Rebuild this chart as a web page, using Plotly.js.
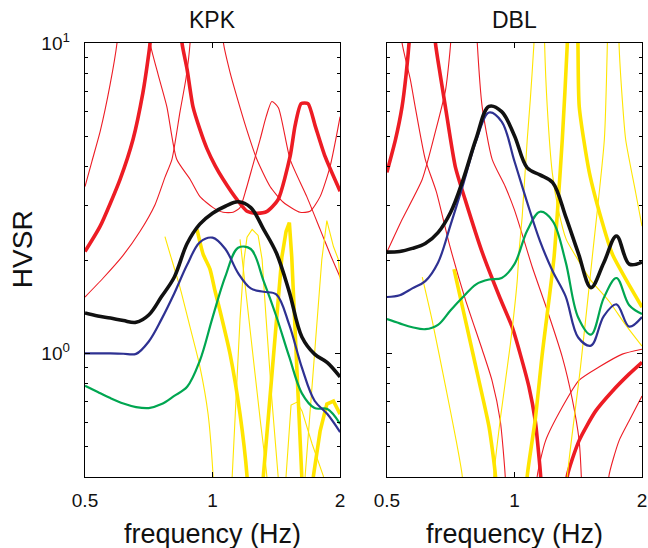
<!DOCTYPE html>
<html>
<head>
<meta charset="utf-8">
<script src="https://cdn.plot.ly/plotly-3.0.1.min.js"></script>
<style>
  html, body { margin: 0; padding: 0; background: #fff; }
  #chart { width: 648px; height: 548px; }
</style>
</head>
<body>
<div id="chart"></div>
<script>
// ---------- shared frequency grid for the smooth HVSR curves ----------
const freq = [0.5, 0.536, 0.574, 0.616, 0.660, 0.707, 0.758, 0.812, 0.871, 0.933, 1.0,
              1.072, 1.149, 1.231, 1.320, 1.414, 1.516, 1.625, 1.741, 1.866, 2.0];

// ---------- KPK smooth curves ----------
const kpkBlack = [1.35, 1.32, 1.30, 1.276, 1.26, 1.33, 1.525, 1.76, 2.26, 2.61, 2.83, 2.98, 3.08, 2.95, 2.51, 2.11, 1.585, 1.13, 0.995, 0.935, 0.84];
const kpkBlue  = [1.0, 1.0, 1.0, 0.998, 0.997, 1.093, 1.29, 1.56, 1.93, 2.28, 2.36, 2.17, 1.815, 1.62, 1.58, 1.55, 1.24, 0.90, 0.704, 0.638, 0.558];
const kpkGreen = [0.787, 0.751, 0.718, 0.69, 0.672, 0.667, 0.687, 0.73, 0.781, 0.947, 1.305, 1.77, 2.19, 2.17, 1.71, 1.318, 0.978, 0.744, 0.667, 0.662, 0.593];

// ---------- DBL smooth curves ----------
const dblBlack = [2.12, 2.13, 2.18, 2.26, 2.45, 2.85, 3.66, 4.92, 6.25, 6.01, 5.03, 3.96, 3.76, 3.55, 2.77, 2.11, 1.63, 1.96, 2.39, 1.94, 1.97];
const dblBlue  = [1.52, 1.54, 1.62, 1.71, 1.96, 2.60, 3.53, 4.84, 5.97, 5.58, 4.16, 3.06, 2.30, 1.84, 1.53, 1.126, 1.06, 1.32, 1.44, 1.22, 1.31];
const dblGreen = [1.29, 1.25, 1.215, 1.197, 1.236, 1.378, 1.525, 1.67, 1.73, 1.75, 1.94, 2.49, 2.86, 2.67, 1.98, 1.305, 1.15, 1.51, 1.75, 1.43, 1.34];

// ---------- KPK red curves (thin / thick) ----------
const kA_f = [0.5, 0.519, 0.543, 0.573, 0.595, 0.605];
const kA_v = [3.45, 4.15, 5.19, 7.34, 10.0, 13.3];
const kB_f = [0.5, 0.543, 0.605, 0.649, 0.685, 0.704, 0.712, 0.716];
const kB_v = [2.13, 2.57, 3.64, 4.89, 6.92, 8.84, 10.0, 11.9];
const kC_f = [0.708, 0.712, 0.744, 0.780, 0.823, 0.885, 0.934, 1.003, 1.059, 1.118, 1.161, 1.200, 1.246, 1.295, 1.338, 1.380, 1.430, 1.524, 1.669, 1.794, 1.894, 2.0];
const kC_v = [11.9, 10.0, 7.91, 6.24, 4.22, 3.64, 3.20, 2.95, 2.85, 2.85, 2.95, 3.38, 4.06, 4.89, 5.79, 6.48, 6.19, 4.22, 3.20, 2.51, 2.09, 1.76];
const kD_f = [0.843, 0.847, 0.871, 0.899, 0.934, 0.970, 1.014, 1.059, 1.142, 1.206, 1.274, 1.345, 1.428, 1.524, 1.566, 1.618, 1.680, 1.746, 1.843, 2.0];
const kD_v = [11.9, 10.0, 8.21, 6.24, 5.26, 4.57, 4.03, 3.64, 3.13, 2.87, 2.83, 2.87, 3.13, 4.31, 5.42, 6.38, 6.38, 5.42, 4.31, 3.33];
const kE_f = [0.5, 0.552, 0.615, 0.674, 0.732, 0.772, 0.802, 0.838, 0.866, 0.885, 0.889];
const kE_v = [1.52, 1.75, 2.07, 2.47, 3.02, 3.69, 4.22, 6.01, 7.73, 10.0, 11.9];
const kF_f = [1.053, 1.061, 1.100, 1.141, 1.204, 1.272, 1.367, 1.469, 1.609, 1.699, 1.794, 1.894, 2.0];
const kF_v = [11.9, 10.0, 8.03, 6.72, 5.26, 4.22, 3.45, 3.07, 2.85, 2.87, 3.20, 4.00, 5.79];

// ---------- KPK yellow curves ----------
const kY1_f = [0.772, 0.794, 0.838, 0.885, 0.934, 0.976, 1.003, 1.008];
const kY1_v = [2.38, 2.09, 1.63, 1.215, 0.904, 0.638, 0.403, 0.34];
const kY2_f = [0.919, 0.950, 0.986, 1.014, 1.042, 1.100, 1.161, 1.206, 1.213];
const kY2_v = [2.51, 2.09, 1.87, 1.586, 1.368, 0.995, 0.638, 0.403, 0.34];
const kY3_f = [1.106, 1.112, 1.136, 1.161, 1.187, 1.206, 1.240, 1.281, 1.309, 1.338, 1.380, 1.428, 1.436];
const kY3_v = [0.34, 0.403, 0.713, 1.29, 2.01, 2.37, 2.51, 2.40, 2.01, 1.29, 0.713, 0.403, 0.34];
const kY4_f = [1.309, 1.318, 1.457, 1.491, 1.518, 1.538, 1.624, 1.631];
const kY4_v = [0.34, 0.403, 2.04, 2.47, 2.64, 2.04, 0.403, 0.34];
const kY5_f = [1.650, 1.654, 1.811, 1.861, 1.929, 1.981, 2.0];
const kY5_v = [0.34, 0.403, 2.01, 2.68, 2.21, 2.01, 1.73];
const kY6_f = [1.722, 1.730, 1.794, 1.861, 1.929, 2.0];
const kY6_v = [0.34, 0.403, 0.562, 0.687, 0.702, 0.638];
const kY7_f = [1.487, 1.491, 1.532, 1.583, 1.627, 1.718, 1.826, 1.834];
const kY7_v = [0.34, 0.403, 0.682, 0.697, 0.652, 0.511, 0.403, 0.366];
const kY8_f = [1.161, 1.226, 1.295, 1.343, 1.349];
const kY8_v = [2.33, 1.197, 0.615, 0.403, 0.34];

// ---------- DBL red curves ----------
const dR1_f = [0.5, 0.524, 0.543, 0.555, 0.564, 0.568];
const dR1_v = [3.83, 4.89, 6.24, 7.91, 10.0, 11.9];
const dR2_f = [0.5, 0.543, 0.606, 0.651, 0.688, 0.707, 0.709];
const dR2_v = [2.12, 2.70, 3.64, 5.19, 7.08, 10.0, 11.9];
const dR3_f = [0.540, 0.543, 0.568, 0.583, 0.616, 0.654, 0.702, 0.765, 0.839, 0.886, 0.926, 0.951, 0.954];
const dR3_v = [11.9, 10.0, 7.62, 6.24, 4.22, 3.32, 2.25, 1.50, 1.03, 0.815, 0.606, 0.403, 0.34];
const dR4_f = [0.648, 0.651, 0.668, 0.687, 0.725, 0.765, 0.839, 0.926, 0.988, 1.032, 1.082, 1.120, 1.138, 1.153, 1.156];
const dR4_v = [11.9, 10.0, 7.91, 6.24, 4.00, 3.13, 2.12, 1.50, 1.215, 0.995, 0.780, 0.606, 0.492, 0.403, 0.34];
const dR6_f = [0.8125, 0.817, 0.839, 0.886, 0.951, 0.999, 1.043, 1.102, 1.182, 1.297, 1.369, 1.420, 1.438, 1.442];
const dR6_v = [11.9, 10.0, 6.24, 4.22, 3.45, 2.91, 2.42, 1.895, 1.44, 0.973, 0.713, 0.53, 0.403, 0.34];
const dR7_f = [1.129, 1.132, 1.184, 1.297, 1.420, 1.583, 1.797, 2.0];
const dR7_v = [0.34, 0.403, 0.523, 0.672, 0.819, 0.904, 0.995, 1.032];
const dR8_f = [1.329, 1.333, 1.420, 1.554, 1.702, 1.864, 2.0];
const dR8_v = [0.34, 0.403, 0.523, 0.652, 0.756, 0.858, 0.937];
const dR9_f = [1.670, 1.671, 1.765, 1.864, 2.0];
const dR9_v = [0.34, 0.403, 0.523, 0.606, 0.729];

// ---------- DBL yellow curves ----------
const dY1_f = [1.117, 1.112, 1.090, 1.072, 1.043, 1.025, 1.015, 0.978, 0.926, 0.894, 0.891];
const dY1_v = [11.9, 10.0, 6.57, 4.89, 2.76, 2.12, 1.71, 1.071, 0.615, 0.403, 0.34];
const dY2_f = [1.176, 1.178, 1.195, 1.228, 1.269, 1.325, 1.392, 1.510, 1.674, 1.826, 2.0];
const dY2_v = [11.9, 10.0, 6.24, 3.83, 2.91, 2.33, 2.07, 1.73, 1.47, 1.24, 1.055];
const dY3_f = [1.336, 1.333, 1.297, 1.269, 1.240, 1.163, 1.120, 1.072, 1.069];
const dY3_v = [11.9, 10.0, 4.89, 3.13, 2.04, 0.995, 0.615, 0.403, 0.34];
const dY4_f = [1.407, 1.412, 1.422, 1.502, 1.612, 1.702, 1.847, 2.0];
const dY4_v = [11.9, 10.0, 6.24, 3.83, 2.64, 2.09, 1.70, 1.41];
const dY5_f = [0.606, 0.640, 0.688, 0.726, 0.753, 0.755];
const dY5_v = [1.76, 1.27, 0.780, 0.538, 0.403, 0.34];
const dY6_f = [0.720, 0.767, 0.825, 0.871, 0.902, 0.904];
const dY6_v = [1.87, 1.27, 0.815, 0.580, 0.403, 0.34];
const dY7_f = [1.661, 1.657, 1.630, 1.527, 1.430, 1.333, 1.329];
const dY7_v = [11.9, 10.0, 4.89, 2.055, 0.890, 0.403, 0.34];
const dY8_f = [1.763, 1.765, 1.797, 1.830, 1.932, 2.0];
const dY8_v = [11.9, 10.0, 6.57, 4.89, 3.30, 2.57];

// ---------- axes / labels ----------
const xTickVals = [0.5, 1, 2];
const xTickText = ['0.5', '1', '2'];
const yTickVals = [1, 10];
const yTickText = ['10<sup>0</sup>', '10<sup>1</sup>'];
const yMinorTicks = [0.4, 0.5, 0.6, 0.7, 0.8, 0.9, 2, 3, 4, 5, 6, 7, 8, 9];
const panelTitles = ['KPK', 'DBL'];
const xLabel = 'frequency (Hz)';
const yLabel = 'HVSR';

// ---------- styles ----------
const RED = '#ED1C24', YEL = '#FFE500', BLUE = '#2E3192', GREEN = '#00A651', BLACK = '#111111';
const THIN = 1.1, THICK = 3.6;

function tr(x, y, color, width, panel, shape, smoothing) {
  const line = {color: color, width: width, shape: shape || 'spline'};
  if ((shape || 'spline') === 'spline') line.smoothing = smoothing == null ? 0.6 : smoothing;
  return {
    x: x, y: y, type: 'scatter', mode: 'lines', line: line,
    xaxis: panel === 2 ? 'x2' : 'x', yaxis: panel === 2 ? 'y2' : 'y',
    hoverinfo: 'skip', showlegend: false
  };
}

const traces = [
  // KPK reds
  tr(kA_f, kA_v, RED, THIN, 1), tr(kB_f, kB_v, RED, THICK, 1),
  tr(kC_f, kC_v, RED, THIN, 1), tr(kD_f, kD_v, RED, THICK, 1),
  tr(kE_f, kE_v, RED, THIN, 1), tr(kF_f, kF_v, RED, THIN, 1),
  // KPK yellows
  tr(kY1_f, kY1_v, YEL, THIN, 1), tr(kY2_f, kY2_v, YEL, THICK, 1),
  tr(kY3_f, kY3_v, YEL, THIN, 1, 'linear'), tr(kY4_f, kY4_v, YEL, THICK, 1, 'linear'),
  tr(kY5_f, kY5_v, YEL, THIN, 1, 'linear'), tr(kY6_f, kY6_v, YEL, THICK, 1, 'linear'),
  tr(kY7_f, kY7_v, YEL, THIN, 1, 'linear'), tr(kY8_f, kY8_v, YEL, THIN, 1),
  // KPK smooth
  tr(freq, kpkGreen, GREEN, 2.2, 1, 'spline', 1), tr(freq, kpkBlue, BLUE, 2.2, 1, 'spline', 1),
  tr(freq, kpkBlack, BLACK, 3.6, 1, 'spline', 1),
  // DBL reds
  tr(dR1_f, dR1_v, RED, THICK, 2), tr(dR2_f, dR2_v, RED, THIN, 2),
  tr(dR3_f, dR3_v, RED, THIN, 2), tr(dR4_f, dR4_v, RED, THICK, 2),
  tr(dR6_f, dR6_v, RED, THIN, 2), tr(dR7_f, dR7_v, RED, THIN, 2),
  tr(dR8_f, dR8_v, RED, THICK, 2), tr(dR9_f, dR9_v, RED, THIN, 2),
  // DBL yellows
  tr(dY1_f, dY1_v, YEL, THIN, 2), tr(dY2_f, dY2_v, YEL, THIN, 2),
  tr(dY3_f, dY3_v, YEL, THICK, 2), tr(dY4_f, dY4_v, YEL, THICK, 2),
  tr(dY5_f, dY5_v, YEL, THIN, 2), tr(dY6_f, dY6_v, YEL, THICK, 2),
  tr(dY7_f, dY7_v, YEL, THIN, 2), tr(dY8_f, dY8_v, YEL, THIN, 2),
  // DBL smooth
  tr(freq, dblGreen, GREEN, 2.2, 2, 'spline', 1), tr(freq, dblBlue, BLUE, 2.2, 2, 'spline', 1),
  tr(freq, dblBlack, BLACK, 3.6, 2, 'spline', 1)
];

const FONT = 'Liberation Sans, Arial, Helvetica, sans-serif';
const axisBase = {
  type: 'log', showgrid: false, zeroline: false, showline: true,
  linecolor: '#000', linewidth: 1.3, mirror: 'ticks',
  ticks: 'inside', ticklen: 5, tickwidth: 1, tickcolor: '#000',
  tickfont: {family: FONT, size: 19, color: '#111'}
};
const xRange = [Math.log10(0.5), Math.log10(2)];
const yRange = [Math.log10(0.4), 1];
const yMinor = {tickvals: yMinorTicks, ticks: 'inside', ticklen: 3, tickwidth: 1, tickcolor: '#000', showgrid: false};

const layout = {
  width: 648, height: 548,
  margin: {l: 85, r: 6, t: 43, b: 71},
  paper_bgcolor: '#fff', plot_bgcolor: '#fff',
  showlegend: false,
  font: {family: FONT, color: '#111'},
  xaxis: Object.assign({}, axisBase, {domain: [0, 0.458], range: xRange, tickvals: xTickVals, ticktext: xTickText, ticklabelstandoff: 6, anchor: 'y'}),
  xaxis2: Object.assign({}, axisBase, {domain: [0.542, 1], range: xRange, tickvals: xTickVals, ticktext: xTickText, ticklabelstandoff: 6, anchor: 'y2'}),
  yaxis: Object.assign({}, axisBase, {range: yRange, tickvals: yTickVals, ticktext: yTickText, minor: yMinor, ticklabelstandoff: 10, anchor: 'x'}),
  yaxis2: Object.assign({}, axisBase, {range: yRange, tickvals: yTickVals, ticktext: yTickText, minor: yMinor, showticklabels: false, anchor: 'x2'}),
  annotations: [
    {text: panelTitles[0], xref: 'paper', yref: 'paper', x: 0.229, y: 1, xanchor: 'center', yanchor: 'bottom', yshift: 8, showarrow: false, font: {family: FONT, size: 23, color: '#111'}},
    {text: panelTitles[1], xref: 'paper', yref: 'paper', x: 0.771, y: 1, xanchor: 'center', yanchor: 'bottom', yshift: 8, showarrow: false, font: {family: FONT, size: 23, color: '#111'}},
    {text: xLabel, xref: 'paper', yref: 'paper', x: 0.229, y: 0, xanchor: 'center', yanchor: 'top', yshift: -40, showarrow: false, font: {family: FONT, size: 27, color: '#111'}},
    {text: xLabel, xref: 'paper', yref: 'paper', x: 0.771, y: 0, xanchor: 'center', yanchor: 'top', yshift: -40, showarrow: false, font: {family: FONT, size: 27, color: '#111'}},
    {text: yLabel, xref: 'paper', yref: 'paper', x: 0, y: 0.525, xanchor: 'center', yanchor: 'middle', xshift: -63, textangle: -90, showarrow: false, font: {family: FONT, size: 28, color: '#111'}}
  ]
};

Plotly.newPlot('chart', traces, layout, {staticPlot: true, displayModeBar: false});
</script>
</body>
</html>
